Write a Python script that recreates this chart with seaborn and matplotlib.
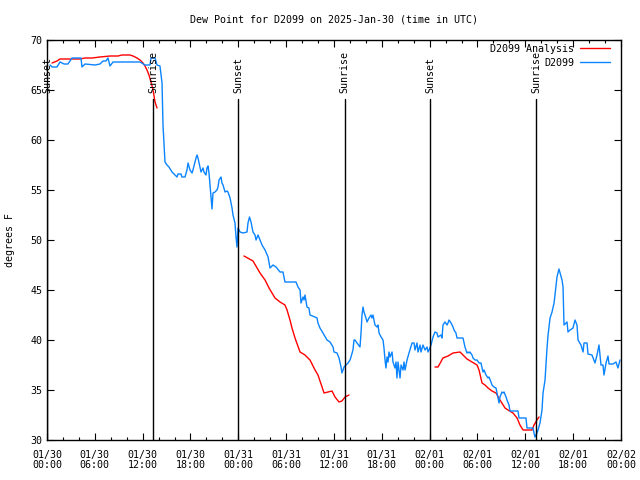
import pandas as pd
import seaborn as sns
import matplotlib.pyplot as plt
from matplotlib.lines import Line2D

# --- data (hours after 2025-01-30 00:00 UTC) ---
obs_hours = [0.38, 0.63, 1.25, 1.63, 2.13, 2.63, 3.14, 4.26, 4.39, 4.77, 6.02, 6.65, 7.02, 7.40,
             7.65, 7.90, 8.28, 11.67, 12.29, 12.92, 13.05, 13.55, 13.80, 14.17, 14.43, 14.55,
             14.68, 14.80, 15.05, 15.30, 15.68, 16.06, 16.31, 16.43, 16.81, 16.93, 17.31, 17.56,
             17.69, 17.94, 18.19, 18.31, 18.69, 18.82, 18.94, 19.19, 19.32, 19.57, 19.69, 19.94,
             20.07, 20.20, 20.32, 20.45, 20.70, 20.82, 21.07, 21.32, 21.45, 21.58, 21.83, 21.95,
             22.08, 22.33, 22.58, 22.70, 22.96, 23.21, 23.33, 23.58, 23.71, 23.83, 23.96, 24.21,
             24.59, 25.09, 25.21, 25.40, 25.59, 25.84, 26.09, 26.22, 26.47, 26.72, 26.97, 27.35,
             27.73, 27.97, 28.35, 28.73, 29.23, 29.60, 29.85, 31.23, 31.49, 31.74, 31.86, 32.11,
             32.24, 32.36, 32.61, 32.86, 32.99, 33.62, 33.87, 33.99, 34.24, 34.62, 35.12, 35.50,
             35.88, 36.00, 36.38, 36.63, 36.88, 37.00, 37.26, 37.51, 37.76, 38.01, 38.13, 38.38,
             38.51, 38.63, 38.89, 39.26, 39.39, 39.51, 39.64, 39.76, 40.01, 40.14, 40.39, 40.64,
             40.77, 40.89, 41.14, 41.39, 41.52, 41.65, 41.90, 42.15, 42.27, 42.40, 42.52, 42.65,
             42.78, 42.90, 43.03, 43.28, 43.40, 43.65, 43.78, 43.90, 44.03, 44.28, 44.41, 44.66,
             44.78, 44.91, 45.16, 45.41, 45.79, 46.04, 46.16, 46.41, 46.54, 46.79, 46.91, 47.16,
             47.42, 47.67, 47.79, 47.92, 48.17, 48.42, 48.67, 48.92, 49.05, 49.42, 49.55, 49.67,
             49.92, 50.18, 50.30, 50.43, 50.68, 50.93, 51.05, 51.30, 51.43, 52.18, 52.43, 52.68,
             52.81, 52.94, 53.06, 53.31, 53.44, 53.69, 53.94, 54.19, 54.44, 54.57, 54.69, 54.82,
             55.07, 55.32, 55.44, 55.69, 55.82, 56.07, 56.32, 56.45, 56.70, 56.82, 57.07, 57.20,
             57.33, 57.58, 57.70, 57.95, 58.08, 59.08, 59.21, 60.08, 60.21, 60.96, 61.09, 61.21,
             61.46, 61.59, 61.84, 62.09, 62.22, 62.47, 62.72, 62.85, 63.10, 63.35, 63.60, 63.72,
             63.97, 64.22, 64.60, 64.73, 64.85, 65.23, 65.35, 65.61, 65.98, 66.23, 66.48, 66.61,
             66.98, 67.24, 67.36, 67.74, 67.86, 68.36, 68.74, 68.99, 69.24, 69.49, 69.74, 69.87,
             70.12, 70.37, 70.50, 71.00, 71.37, 71.62, 71.87]
obs_dewpt = [67.5, 67.3, 67.3, 67.8, 67.6, 67.6, 68.2, 68.2, 67.3, 67.6, 67.5, 67.6, 67.9, 67.9,
             68.2, 67.4, 67.8, 67.8, 67.5, 67.5, 68.2, 68.2, 67.5, 67.4, 65.7, 61.5,
             59.5, 57.8, 57.5, 57.3, 56.8, 56.5, 56.3, 56.6, 56.6, 56.3, 56.3, 57.0,
             57.7, 57.0, 56.7, 57.0, 58.2, 58.5, 58.2, 57.3, 56.8, 57.2, 56.8, 56.5,
             57.2, 57.4, 56.7, 55.5, 53.1, 54.7, 54.8, 55.0, 55.3, 56.0, 56.3, 55.7,
             55.5, 54.8, 54.9, 54.8, 54.2, 53.2, 52.5, 51.7, 50.3, 49.3, 51.2, 50.8,
             50.7, 50.8, 51.7, 52.3, 51.8, 50.8, 50.5, 50.0, 50.5, 50.0, 49.5, 49.0,
             48.3, 47.2, 47.5, 47.3, 46.8, 46.8, 45.8, 45.8, 45.3, 45.0, 43.7, 44.3,
             44.0, 44.5, 43.3, 43.2, 42.5, 42.3, 42.2, 41.7, 41.2, 40.7, 40.0, 39.8,
             39.3, 38.8, 38.7, 38.2, 37.3, 36.7, 37.3, 37.5, 37.7, 38.0, 38.3, 39.0,
             40.0, 40.0, 39.7, 39.3, 40.7, 42.5, 43.3, 42.8, 42.2, 41.8, 42.2, 42.5,
             42.2, 42.5, 41.5, 41.3, 41.5, 40.7, 40.3, 40.0, 39.2, 38.0, 37.2, 38.3,
             37.8, 38.8, 38.3, 38.8, 37.8, 37.2, 37.8, 36.2, 37.8, 36.2, 37.5, 37.0,
             37.8, 37.0, 38.0, 38.7, 39.7, 39.7, 39.0, 39.7, 38.8, 39.5, 38.8, 39.5,
             39.0, 39.3, 38.8, 39.0, 39.5, 40.3, 40.8, 40.7, 40.3, 40.5, 40.2, 41.5,
             41.8, 41.5, 41.7, 42.0, 41.7, 41.3, 41.0, 40.7, 40.2, 40.2, 39.3, 38.7,
             38.8, 38.7, 38.8, 38.5, 38.2, 38.0, 38.0, 37.7, 37.7, 37.2, 36.8, 37.0,
             36.5, 36.2, 36.3, 35.8, 35.5, 35.3, 35.2, 34.7, 33.7, 34.3, 34.8, 34.7,
             34.8, 34.3, 34.0, 33.5, 32.9, 32.9, 32.2, 32.2, 31.2, 31.2, 30.7, 30.3,
             30.7, 31.0, 31.7, 33.0, 34.7, 36.0, 39.2, 40.5, 42.2, 42.8, 43.7, 44.5,
             46.3, 47.1, 46.0, 45.3, 41.5, 41.8, 40.8, 41.0, 41.2, 42.0, 41.5, 40.0,
             39.5, 38.8, 39.7, 39.7, 38.6, 38.5, 37.7, 38.5, 39.5, 37.5, 37.5, 36.5,
             37.7, 38.4, 37.6, 37.6, 37.8, 37.2, 38.0]

# analysis comes in three separate runs
ana_hours = [0.63, 1.25, 1.63, 4.14, 4.77, 5.64, 6.65, 7.90, 8.91, 9.41, 10.41, 10.79, 11.29,
             11.67, 12.04, 12.29, 12.54, 12.79, 13.05, 13.30, 13.55, 13.80,
             24.71, 25.84, 26.72, 27.35, 27.85, 28.60, 29.23, 29.85, 30.11, 30.48, 30.73, 31.11,
             31.74, 32.36, 32.99, 33.62, 33.99, 34.50, 34.75, 35.25, 35.75, 36.13, 36.63, 37.00,
             37.38, 37.88,
             48.67, 49.05, 49.67, 50.30, 50.93, 51.81, 52.18, 52.68, 53.31, 53.94, 54.19, 54.57,
             54.94, 55.32, 55.82, 56.32, 56.82, 57.45, 57.83, 58.45, 58.96, 59.33, 59.71, 60.84,
             61.09, 61.46, 61.72]
ana_dewpt = [67.7, 67.9, 68.1, 68.1, 68.2, 68.2, 68.3, 68.4, 68.4, 68.5, 68.5, 68.4, 68.2,
             68.0, 67.7, 67.4, 67.0, 66.5, 65.8, 65.0, 63.8, 63.2,
             48.4, 47.9, 46.7, 46.0, 45.2, 44.2, 43.8, 43.5, 43.0, 42.0, 41.2, 40.2,
             38.8, 38.5, 38.0, 37.0, 36.5, 35.3, 34.7, 34.8, 34.9, 34.3, 33.8, 33.9,
             34.3, 34.5,
             37.3, 37.3, 38.2, 38.4, 38.7, 38.8, 38.5, 38.1, 37.8, 37.5, 37.0, 35.7,
             35.5, 35.2, 34.9, 34.7, 34.0, 33.2, 33.0, 32.7, 32.2, 31.5, 31.0, 31.0,
             31.5, 32.0, 32.3]
ana_run = [1] * 22 + [2] * 26 + [3] * 27

event_hours = [0.0, 13.35, 24.0, 37.35, 48.05, 61.35]
event_names = ["Sunset", "Sunrise", "Sunset", "Sunrise", "Sunset", "Sunrise"]

start = pd.Timestamp("2025-01-30 00:00")
obs = pd.DataFrame({"time": start + pd.to_timedelta(obs_hours, unit="h"), "dewpt": obs_dewpt})
ana = pd.DataFrame({"time": start + pd.to_timedelta(ana_hours, unit="h"),
                    "dewpt": ana_dewpt, "run": ana_run})
events = start + pd.to_timedelta(event_hours, unit="h")
tick_times = pd.date_range(start, periods=13, freq="6h")
tick_labels = [t.strftime("%m/%d\n%H:%M") for t in tick_times]

sns.set_style("ticks", {"axes.edgecolor": "black", "xtick.color": "black",
                        "ytick.color": "black", "text.color": "black",
                        "axes.labelcolor": "black"})
plt.rcParams["font.family"] = ["DejaVu Sans Mono"]
plt.rcParams["font.size"] = 7.2

RED = "#ff0000"
BLUE = "#0a84ff"

fig = plt.figure(figsize=(6.4, 4.8), dpi=100)
ax = fig.add_axes([47 / 640, 40 / 480, 574 / 640, 400 / 480])

sns.lineplot(data=ana, x="time", y="dewpt", units="run", estimator=None,
             color=RED, linewidth=1.0, ax=ax)
sns.lineplot(data=obs, x="time", y="dewpt", color=BLUE, linewidth=1.0, ax=ax)

for t, name in zip(events, event_names):
    ax.axvline(t, ymin=0, ymax=0.8525, color="black", linewidth=1.0)
    ax.text(t, 0.8675, name, rotation=90, ha="center", va="bottom",
            transform=ax.get_xaxis_transform(), fontsize=7.2, color="black")

ax.set_xlim(tick_times[0], tick_times[-1])
ax.set_ylim(30, 70)
ax.set_yticks(range(30, 71, 5))
ax.set_xticks(tick_times)
ax.set_xticklabels(tick_labels, linespacing=1.05)
ax.set_xticks(pd.date_range(start, periods=37, freq="2h"), minor=True)

ax.tick_params(which="both", direction="in", top=True, right=True, width=0.8,
               colors="black")
ax.tick_params(which="major", length=5, pad=3.5)
ax.tick_params(axis="x", which="major", pad=7)
ax.tick_params(which="minor", length=2.5)
for sp in ax.spines.values():
    sp.set_linewidth(1.0)
    sp.set_color("black")

ax.set_xlabel("")
ax.set_ylabel("degrees F", va="center", color="black")
ax.yaxis.set_label_coords(-37 / 574, 0.5)

fig.text(334 / 640, 1 - 19 / 480, "Dew Point for D2099 on 2025-Jan-30 (time in UTC)",
         ha="center", va="center", fontsize=7.2, color="black")

handles = [Line2D([], [], color=RED, linewidth=1.0), Line2D([], [], color=BLUE, linewidth=1.0)]
leg = ax.legend(handles, ["D2099 Analysis", "D2099"], loc="upper right", frameon=False,
                markerfirst=False, handlelength=3.0, handletextpad=0.6, labelspacing=0.4,
                borderpad=0, borderaxespad=0,
                bbox_to_anchor=((610 - 47) / 574, (440 - 44) / 400))
for txt in leg.get_texts():
    txt.set_color("black")

fig.savefig("out.png", dpi=100)
